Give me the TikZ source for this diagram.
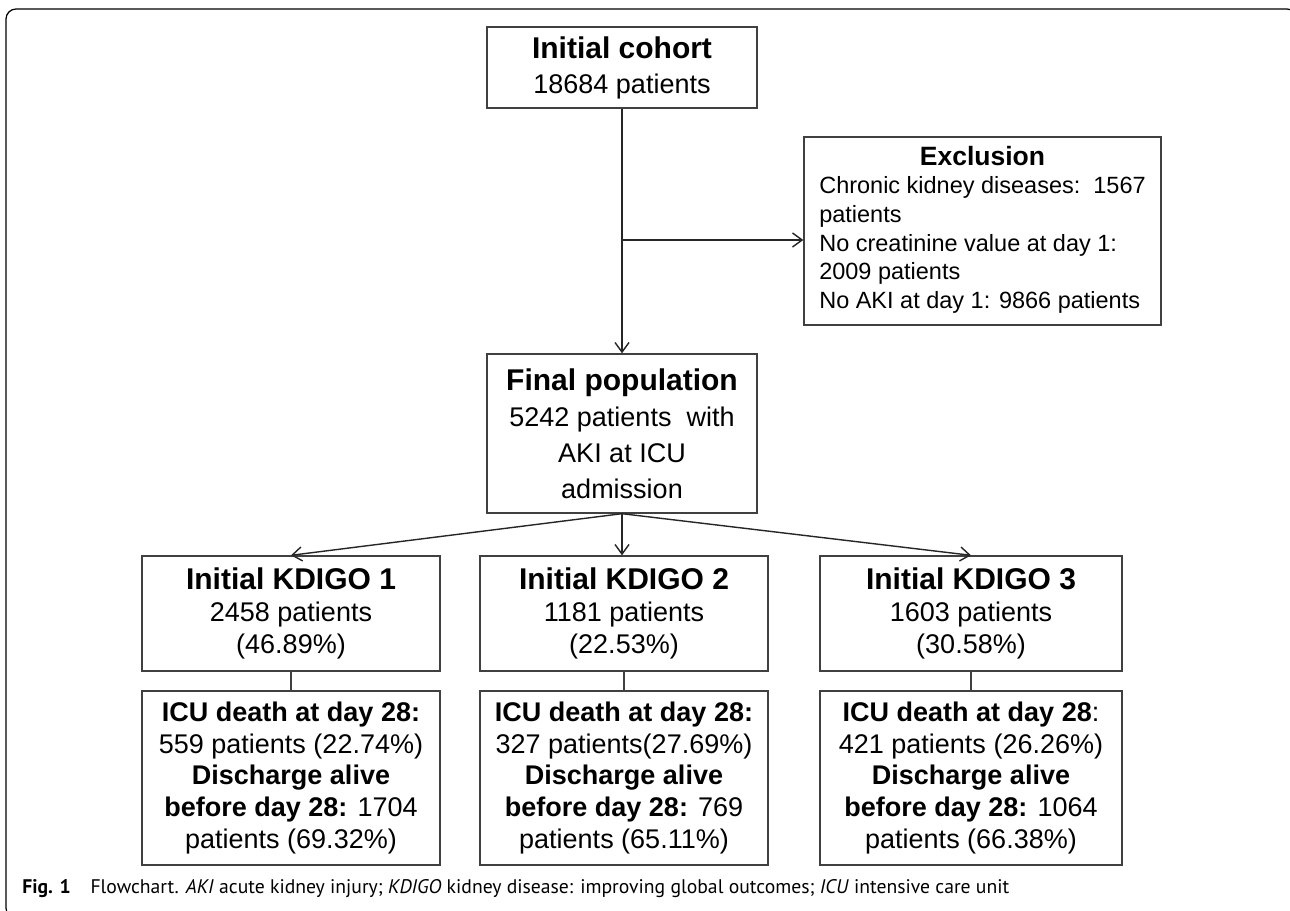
\documentclass[tikz,border=0pt]{standalone}
\usepackage{fontspec}
\setmainfont{Liberation Sans}
\newfontfamily\capfont{PT Sans}
\usetikzlibrary{arrows.meta}

\newcommand{\boxhead}[1]{{\fontsize{17.07}{18.2}\selectfont\bfseries #1}}

\begin{document}
\begin{tikzpicture}[x=0.02cm,y=-0.02cm,
  box/.style={draw=black!75,line width=0.8pt,align=center,inner sep=0pt,
    font=\fontsize{15.37}{18.2}\selectfont},
  arr/.style={draw=black!85,line width=0.8pt,-{Straight Barb[length=5.5pt,width=8pt]}},
  link/.style={draw=black!75,line width=0.8pt}]
\useasboundingbox (0,0) rectangle (1290,911);
%\draw[step=50,lightgray,very thin] (0,0) grid (1290,911);

% frame
\begin{scope}
\clip (0,0) rectangle (1290,911);
\draw[line width=0.7pt,rounded corners=0.2cm] (60,918) -- (6,918) -- (6,9) -- (1297,9) -- (1297,80);
\end{scope}

\node[box,minimum width=5.4cm,minimum height=1.62cm,
  font=\fontsize{15.37}{19.9}\selectfont] (cohort) at (622,67.5)
  {\boxhead{Initial cohort}\\ 18684 patients};

\node[box,minimum width=7.14cm,minimum height=3.76cm] (excl) at (982.5,231)
  {\fontsize{13.37}{16.3}\selectfont
   \begin{tabular}{@{}l@{}}
   \multicolumn{1}{@{}c@{}}{\fontsize{15.08}{16.3}\selectfont\bfseries Exclusion}\\
   Chronic kidney diseases:~~1567\\
   patients\\
   No creatinine value at day 1:\\
   2009 patients\\
   No AKI at day 1: 9866 patients
   \end{tabular}};

\node[box,minimum width=5.4cm,minimum height=3.18cm,
  font=\fontsize{15.37}{20.5}\selectfont] (final) at (622,433.5)
  {\boxhead{Final population}\\ 5242 patients~~with\\ AKI at ICU\\ admission};

% KDIGO groups
\node[box,minimum width=5.96cm,minimum height=2.3cm] (k1) at (291,613.5)
  {\boxhead{Initial KDIGO 1}\\ 2458 patients\\ (46.89\%)};
\node[box,minimum width=5.76cm,minimum height=2.3cm] (k2) at (624,613.5)
  {\boxhead{Initial KDIGO 2}\\ 1181 patients\\ (22.53\%)};
\node[box,minimum width=6.04cm,minimum height=2.3cm] (k3) at (971,613.5)
  {\boxhead{Initial KDIGO 3}\\ 1603 patients\\ (30.58\%)};

% outcomes
\node[box,minimum width=5.96cm,minimum height=3.48cm] (o1) at (291,778)
  {\textbf{ICU death at day 28:}\\ 559 patients (22.74\%)\\ \textbf{Discharge alive}\\
   \textbf{before day 28:} 1704\\ patients (69.32\%)};
\node[box,minimum width=5.76cm,minimum height=3.48cm] (o2) at (624,778)
  {\textbf{ICU death at day 28:}\\ 327 patients(27.69\%)\\ \textbf{Discharge alive}\\
   \textbf{before day 28:} 769\\ patients (65.11\%)};
\node[box,minimum width=6.04cm,minimum height=3.48cm] (o3) at (971,778)
  {\textbf{ICU death at day 28}:\\ 421 patients (26.26\%)\\ \textbf{Discharge alive}\\
   \textbf{before day 28:} 1064\\ patients (66.38\%)};

\coordinate (split) at (622,240);

\draw[arr] (cohort) -- (final);
\draw[arr] (split) -- (split -| excl.west);

\draw[arr] (final.south) -- (k1.north);
\draw[arr] (final.south) -- (final.south |- k2.north);
\draw[arr] (final.south) -- (k3.north);

\draw[link] (k1) -- (o1);
\draw[link] (k2) -- (o2);
\draw[link] (k3) -- (o3);

\node[anchor=west,inner sep=0pt,font=\capfont\fontsize{11.2}{13}\selectfont] (caption) at (22,889)
  {\textbf{Fig. 1}\quad Flowchart. \textit{AKI} acute kidney injury; \textit{KDIGO} kidney disease: improving global outcomes; \textit{ICU} intensive care unit};

\end{tikzpicture}
\end{document}
